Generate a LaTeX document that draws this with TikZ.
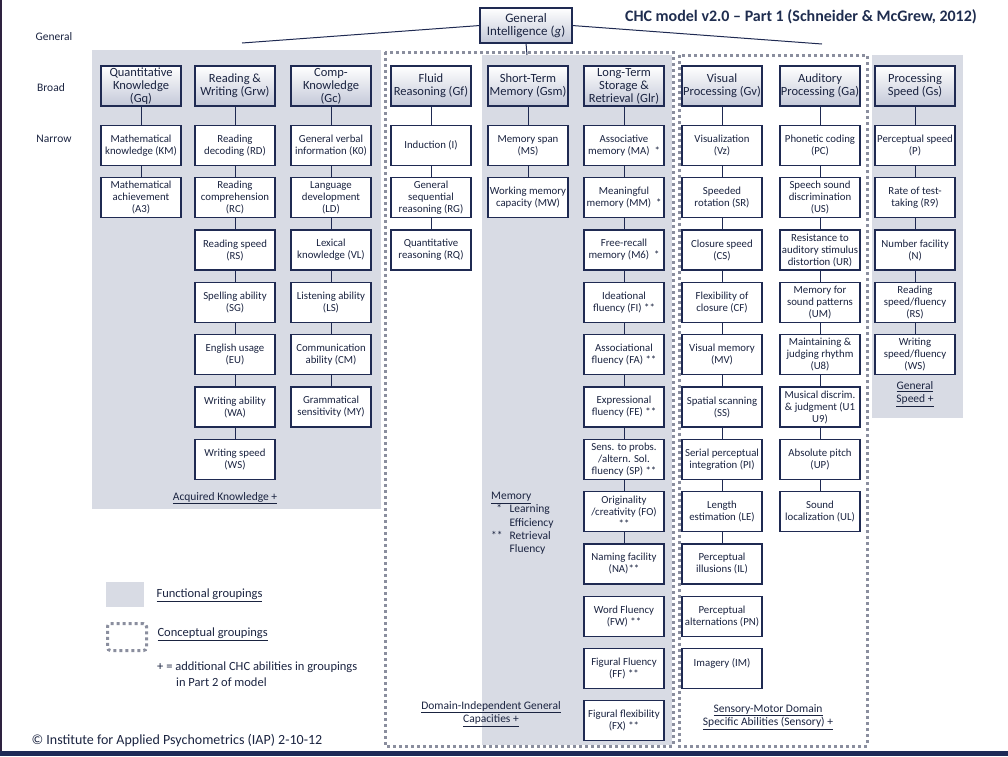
\documentclass[tikz,border=0pt]{standalone}
\usepackage{fontspec}
\setmainfont{Carlito}
\usepackage{xcolor}
\usepackage{tikz}
\usetikzlibrary{positioning}

\definecolor{navy}{HTML}{1F2A52}
\definecolor{inkblue}{HTML}{1A2340}
\definecolor{titleblue}{HTML}{1F2D4F}
\definecolor{groupgrey}{HTML}{D8DBE4}
\definecolor{dotgrey}{HTML}{8A8E9E}
\definecolor{broadbot}{HTML}{C3C8D8}
\definecolor{framenavy}{HTML}{1E2A56}
\definecolor{framedark}{HTML}{2E2240}

\begin{document}
\begin{tikzpicture}[x=1pt, y=-1pt, node distance=12.3pt,
    narrow/.style={rectangle, draw=navy, line width=1.3pt, outer sep=0pt, fill=white, minimum width=80pt, minimum height=40pt, inner sep=1.2pt, align=center, text=inkblue, font=\fontsize{10.8}{12}\selectfont},
    broad/.style={rectangle, draw=navy, line width=1.4pt, outer sep=0pt, top color=white, bottom color=broadbot, minimum width=80pt, minimum height=40pt, inner sep=0.5pt, align=center, text=inkblue, font=\fontsize{12.5}{13}\selectfont},
    link/.style={draw=navy, line width=1pt},
    grp/.style={fill=groupgrey},
    concept/.style={draw=dotgrey, line width=3pt, dash pattern=on 3pt off 3pt},
    lbl/.style={align=center, text=inkblue, font=\fontsize{11.5}{13.5}\selectfont}]
    \useasboundingbox (0,0) rectangle (1008,756);

    % functional and conceptual groupings
    \fill[grp] (92,50) rectangle (381,509);
    \fill[grp] (482,55) rectangle (672,745);
    \fill[grp] (872,55) rectangle (963,418);
    \draw[concept] (385,52) rectangle (673,746);
    \draw[concept] (679,55) rectangle (867,746);
    \fill[framenavy] (0,751) rectangle (1008,756);
    \fill[framedark] (0,0) rectangle (1.5,751);

    \node[font=\fontsize{16}{18}\selectfont\bfseries, text=titleblue] (title) at (801,17) {CHC model v2.0 – Part 1 (Schneider \& McGrew, 2012)};
    \node[lbl] (rowgeneral) at (54,37) {General};
    \node[lbl] (rowbroad) at (51,88) {Broad};
    \node[lbl] (rownarrow) at (54,139) {Narrow};

    % g and broad abilities
    \node[broad, minimum width=92pt, minimum height=35pt, font=\fontsize{13}{13.5}\selectfont] (g) at (526,25.5) {General\\Intelligence (\textit{g})};
    \coordinate (gleft) at (242,43);
    \coordinate (gright) at (822,44);
    \coordinate (gdown) at (527,55);
    \node[broad] (gq) at (141,86) {Quantitative\\Knowledge\\(Gq)};
    \node[broad] (grw) at (235,86) {Reading \&\\Writing (Grw)};
    \node[broad] (gc) at (331,86) {Comp-\\Knowledge\\(Gc)};
    \node[broad] (gf) at (431,86) {Fluid\\Reasoning (Gf)};
    \node[broad] (gsm) at (528,86) {Short-Term\\Memory (Gsm)};
    \node[broad] (glr) at (624,86) {Long-Term\\Storage \&\\Retrieval (Glr)};
    \node[broad] (gv) at (722,86) {Visual\\Processing (Gv)};
    \node[broad] (ga) at (820,86) {Auditory\\Processing (Ga)};
    \node[broad] (gs) at (915,86) {Processing\\Speed (Gs)};

    % narrow abilities
    \node[narrow, below=19.5pt of gq] (km) {Mathematical\\knowledge (KM)};
    \node[narrow, below=of km] (a3) {Mathematical\\achievement\\(A3)};

    \node[narrow, below=19.5pt of grw] (rd) {Reading\\decoding (RD)};
    \node[narrow, below=of rd] (rc) {Reading\\comprehension\\(RC)};
    \node[narrow, below=of rc] (rs) {Reading speed\\(RS)};
    \node[narrow, below=of rs] (sg) {Spelling ability\\(SG)};
    \node[narrow, below=of sg] (eu) {English usage\\(EU)};
    \node[narrow, below=of eu] (wa) {Writing ability\\(WA)};
    \node[narrow, below=of wa] (ws) {Writing speed\\(WS)};

    \node[narrow, below=19.5pt of gc] (k0) {General verbal\\information (K0)};
    \node[narrow, below=of k0] (ld) {Language\\development\\(LD)};
    \node[narrow, below=of ld] (vl) {Lexical\\knowledge (VL)};
    \node[narrow, below=of vl] (ls) {Listening ability\\(LS)};
    \node[narrow, below=of ls] (cm) {Communication\\ability (CM)};
    \node[narrow, below=of cm] (my) {Grammatical\\sensitivity (MY)};

    \node[narrow, below=19.5pt of gf] (ind) {Induction (I)};
    \node[narrow, below=of ind] (rg) {General\\sequential\\reasoning (RG)};
    \node[narrow, below=of rg] (rq) {Quantitative\\reasoning (RQ)};

    \node[narrow, below=19.5pt of gsm] (ms) {Memory span\\(MS)};
    \node[narrow, below=of ms] (mw) {Working memory\\capacity (MW)};

    \node[narrow, below=19.5pt of glr] (ma) {Associative\\memory (MA)\ \ *};
    \node[narrow, below=of ma] (mm) {Meaningful\\memory (MM)\ \ *};
    \node[narrow, below=of mm] (m6) {Free-recall\\memory (M6)\ \ *};
    \node[narrow, below=of m6] (fi) {Ideational\\fluency (FI)\ **};
    \node[narrow, below=of fi] (fa) {Associational\\fluency (FA)\ **};
    \node[narrow, below=of fa] (fe) {Expressional\\fluency (FE)\ **};
    \node[narrow, below=of fe] (sp) {Sens. to probs.\\/altern. Sol.\\fluency (SP)\ **};
    \node[narrow, below=of sp] (fo) {Originality\\/creativity (FO)\\{**}};
    \node[narrow, below=of fo] (na) {Naming facility\\(NA)**};
    \node[narrow, below=of na] (fw) {Word Fluency\\(FW)\ **};
    \node[narrow, below=of fw] (ff) {Figural Fluency\\(FF)\ **};
    \node[narrow, below=of ff] (fx) {Figural flexibility\\(FX)\ **};

    \node[narrow, below=19.5pt of gv] (vz) {Visualization\\(Vz)};
    \node[narrow, below=of vz] (sr) {Speeded\\rotation (SR)};
    \node[narrow, below=of sr] (cs) {Closure speed\\(CS)};
    \node[narrow, below=of cs] (cf) {Flexibility of\\closure (CF)};
    \node[narrow, below=of cf] (mv) {Visual memory\\(MV)};
    \node[narrow, below=of mv] (ss) {Spatial scanning\\(SS)};
    \node[narrow, below=of ss] (pi) {Serial perceptual\\integration (PI)};
    \node[narrow, below=of pi] (le) {Length\\estimation (LE)};
    \node[narrow, below=of le] (il) {Perceptual\\illusions (IL)};
    \node[narrow, below=of il] (pn) {Perceptual\\alternations (PN)};
    \node[narrow, below=of pn] (im) {Imagery (IM)\\~};

    \node[narrow, below=19.5pt of ga] (pc) {Phonetic coding\\(PC)};
    \node[narrow, below=of pc] (us) {Speech sound\\discrimination\\(US)};
    \node[narrow, below=of us] (ur) {Resistance to\\auditory stimulus\\distortion (UR)};
    \node[narrow, below=of ur] (um) {Memory for\\sound patterns\\(UM)};
    \node[narrow, below=of um] (u8) {Maintaining \&\\judging rhythm\\(U8)};
    \node[narrow, below=of u8] (u1) {Musical discrim.\\\& judgment (U1\\U9)};
    \node[narrow, below=of u1] (up) {Absolute pitch\\(UP)};
    \node[narrow, below=of up] (ul) {Sound\\localization (UL)};

    \node[narrow, below=19.5pt of gs] (p) {Perceptual speed\\(P)};
    \node[narrow, below=of p] (r9) {Rate of test-\\taking (R9)};
    \node[narrow, below=of r9] (n) {Number facility\\(N)};
    \node[narrow, below=of n] (rsgs) {Reading\\speed/fluency\\(RS)};
    \node[narrow, below=of rsgs] (wsgs) {Writing\\speed/fluency\\(WS)};

    % connectors
    \draw[link] (g.west) -- (gleft);
    \draw[link] (g.east) -- (gright);
    \draw[link] (g.south) -- (gdown);
    \draw[link] (gq) -- (km) -- (a3);
    \draw[link] (grw) -- (rd) -- (rc) -- (rs) -- (sg) -- (eu) -- (wa) -- (ws);
    \draw[link] (gc) -- (k0) -- (ld) -- (vl) -- (ls) -- (cm) -- (my);
    \draw[link] (gf) -- (ind) -- (rg) -- (rq);
    \draw[link] (gsm) -- (ms) -- (mw);
    \draw[link] (glr) -- (ma) -- (mm) -- (m6) -- (fi) -- (fa) -- (fe) -- (sp) -- (fo) -- (na);
    \draw[link] (gv) -- (vz) -- (sr) -- (cs) -- (cf) -- (mv) -- (ss) -- (pi) -- (le) -- (il);
    \draw[link] (ga) -- (pc) -- (us) -- (ur) -- (um) -- (u8) -- (u1) -- (up) -- (ul);
    \draw[link] (gs) -- (p) -- (r9) -- (n) -- (rsgs) -- (wsgs);

    % group labels
    \node[lbl] (acqlabel) at (225,498) {\underline{Acquired Knowledge +}};
    \node[lbl] (speedlabel) at (915,394) {\underline{General}\\\underline{Speed +}};
    \node[lbl] (domlabel) at (491,714) {\underline{Domain-Independent General}\\\underline{Capacities +}};
    \node[lbl] (senslabel) at (768,717) {\underline{Sensory-Motor Domain}\\\underline{Specific Abilities (Sensory) +}};
    \node[lbl, anchor=north west, align=left, inner sep=0pt, font=\fontsize{11.5}{13.3}\selectfont] (memlabel) at (491,490) {\begin{tabular}{@{}l@{\hspace{7pt}}l@{}}
        \multicolumn{2}{@{}l}{\underline{Memory}}\\
        {\ \ *} & Learning\\
        & Efficiency\\
        {**} & Retrieval\\
        & Fluency
    \end{tabular}};

    % legend
    \node[fill=groupgrey, minimum width=38pt, minimum height=25pt] (funcswatch) at (125,594.5) {};
    \node[concept, rounded corners=3pt, minimum width=39pt, minimum height=27pt] (concswatch) at (127,637) {};
    \node[lbl, anchor=west, font=\fontsize{12.5}{14}\selectfont] (functext) at (153,595) {\underline{Functional groupings}};
    \node[lbl, anchor=west, font=\fontsize{12.5}{14}\selectfont] (conctext) at (154,634) {\underline{Conceptual groupings}};
    \node[lbl, anchor=north west, align=left, inner sep=0pt, font=\fontsize{12.5}{16}\selectfont] (plustext) at (157,662) {+ = additional CHC abilities in groupings\\\hspace{19pt}in Part 2 of model};
    \node[lbl, anchor=west, font=\fontsize{14}{16}\selectfont] (copyright) at (28,740) {© Institute for Applied Psychometrics (IAP) 2-10-12};
\end{tikzpicture}
\end{document}
